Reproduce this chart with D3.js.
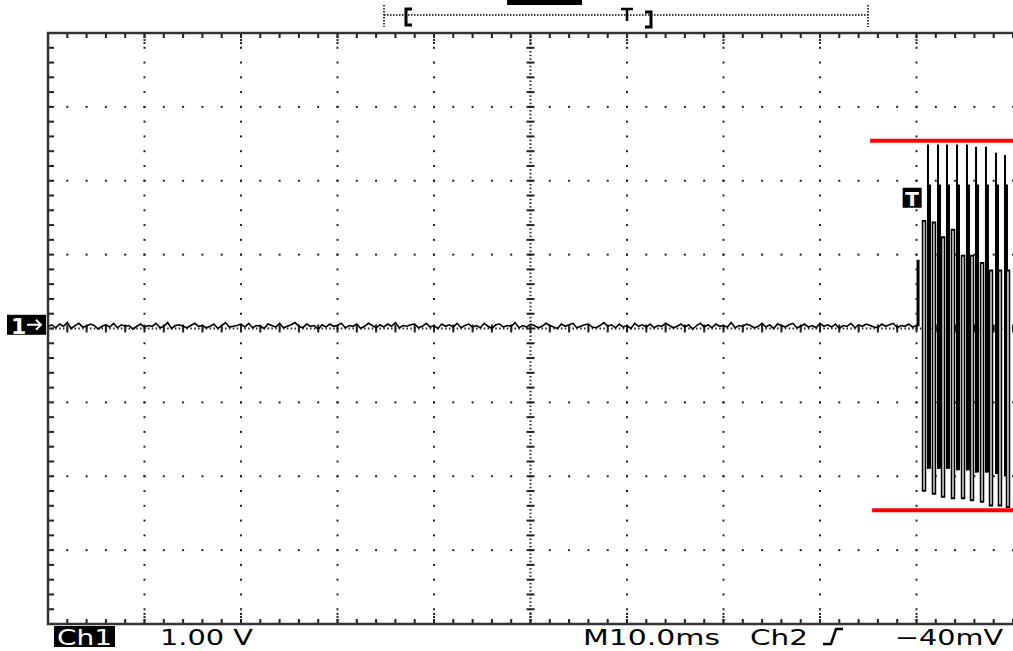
<!DOCTYPE html>
<html><head><meta charset="utf-8">
<script src="https://cdn.jsdelivr.net/npm/d3@7"></script>
<style>html,body{margin:0;padding:0;background:#fff;overflow:hidden}</style>
</head><body>
<svg id="c" width="1013" height="651"></svg>
<script>
// ---- data ----
const timeDomain = [0, 100];           // ms (10 ms/div, 10 div)
const voltDomain = [-4, 4];            // V (1.00 V/div, 8 div)
const sampleStep = 0.4;                // ms between noise samples
const noiseV = [0.03,0.05,0.01,0.06,0.03,0.08,0.00,0.04,0.07,0.02,0.03,0.06,0.04,-0.01,0.03,0.05,0.02,0.07,0.01,0.05,
0.03,0.04,-0.01,0.03,0.06,0.02,0.04,0.03,0.07,0.01,0.03,0.08,0.00,0.04,0.05,0.03,0.01,0.04,0.07,0.03,
0.04,0.01,0.03,0.06,0.00,0.04,0.08,0.02,0.03,0.04,0.06,0.02,0.07,0.01,0.04,0.03,0.00,0.06,0.04,0.02,
0.07,0.01,0.03,0.05,0.08,0.03,0.01,0.06,0.03,0.04,-0.01,0.05,0.02,0.06,0.03,0.04,0.07,0.01,0.04,0.03,
0.06,0.00,0.03,0.07,0.04,0.01,0.05,0.02,0.06,0.03,0.08,0.01,0.04,0.03,0.05,0.06,0.01,0.03,0.07,0.02,
0.04,0.00,0.06,0.03,0.05,0.02,0.07,0.01,0.04,0.06,0.02,0.04,0.01,0.07,0.03,0.00,0.05,0.06,0.02,0.04,
0.03,0.08,0.01,0.04,0.02,0.06,0.04,0.01,0.03,0.07,0.04,0.02,0.00,0.06,0.03,0.05,0.07,0.01,0.03,0.05,
0.06,0.02,0.01,0.04,0.08,0.03,0.05,0.01,0.06,0.02,0.04,0.00,0.07,0.03,0.05,0.02,0.06,0.01,0.04,0.03,
0.07,0.04,0.01,0.03,0.06,0.02,0.05,-0.01,0.04,0.07,0.02,0.05,0.01,0.06,0.03,0.04,0.02,0.08,0.01,0.04,
0.03,0.06,0.04,0.01,0.03,0.07,0.02,0.05,0.00,0.06,0.04,0.02,0.05,0.07,0.01,0.03,0.06,0.02,0.04,0.01,
0.07,0.03,0.05,0.02,0.06,0.00,0.04,0.03,0.07,0.01,0.05,0.03,0.06,0.04,0.02,0.01,0.06,0.03,0.05,0.07,
0.01,0.04,0.03,0.06,0.02,0.04];
// burst: columns of the envelope display (time, top, bottom), alternating lower and upper strokes
const burstT  = [90.16, 90.78, 91.19, 91.81, 92.23, 92.75, 93.16, 93.78, 94.20, 94.82, 95.23, 95.75, 96.17, 96.79, 97.20, 97.72, 98.24, 98.65, 99.17, 99.48];
const burstHi = [0.93, 1.47, 2.49, 1.45, 2.49, 1.25, 2.49, 1.35, 2.49, 1.00, 2.49, 1.00, 2.46, 0.90, 2.46, 0.80, 2.38, 0.80, 2.35, 0.80];
const burstLo = [0.03, -2.21, -1.90, -2.25, -1.90, -2.29, -1.90, -2.31, -1.92, -2.31, -1.92, -2.34, -1.95, -2.36, -1.95, -2.41, -1.97, -2.41, -2.00, -2.43];
const burstKind = ["start","lo","hi","lo","hi","lo","hi","lo","hi","lo","hi","lo","hi","lo","hi","lo","hi","lo","hi","lo"];
const burstBarTop = 1.95;              // level where solid part of upper strokes begins
const cursorV = [2.54, -2.46];         // red cursor levels
const cursorT = [[85.2, 100], [85.4, 100]];
const triggerV = 1.77;
const triggerT = 89.6;
const groundV = 0.05;
const bottomLabels = ["Ch1", "1.00 V", "M10.0ms", "Ch2", "\u221240mV"];

// ---- scales ----
const W = 1013, H = 651;
const x = d3.scaleLinear().domain(timeDomain).range([48, 1013]);
const y = d3.scaleLinear().domain(voltDomain).range([624, 33]);
const svg = d3.select("#c");
svg.append("rect").attr("width", W).attr("height", H).attr("fill", "#fff");

const g = svg.append("g");
const dotC = "#222";
const majT = d3.range(10, 100, 10), majV = d3.range(-3, 4, 1);
const minT = d3.range(0, 100.01, 2), minV = d3.range(-4, 4.01, 0.2);

// dotted major grid
majT.forEach(t => { if (t === 50) return;
  minV.forEach(v => g.append("rect").attr("x", x(t) - 1).attr("y", y(v) - 1).attr("width", 2).attr("height", 2).attr("fill", dotC));
});
majV.forEach(v => { if (v === 0) return;
  minT.forEach(t => g.append("rect").attr("x", x(t) - 1).attr("y", y(v) - 1).attr("width", 2).attr("height", 2).attr("fill", dotC));
});
// center crosshair: dense dots and minor ticks
d3.range(-4, 4.001, 0.05).forEach(v => g.append("rect").attr("x", x(50) - 1).attr("y", y(v) - 0.5).attr("width", 2).attr("height", 1.5).attr("fill", dotC));
d3.range(0, 100.001, 0.4).forEach(t => g.append("rect").attr("x", x(t) - 0.5).attr("y", y(0) - 1).attr("width", 1.5).attr("height", 2).attr("fill", dotC));
minV.forEach(v => g.append("rect").attr("x", x(50) - 4).attr("y", y(v) - 1).attr("width", 8).attr("height", 2).attr("fill", dotC));
minT.forEach(t => g.append("rect").attr("x", x(t) - 1).attr("y", y(0) - 4).attr("width", 2).attr("height", 8).attr("fill", dotC));
// border ticks
minT.forEach(t => {
  g.append("rect").attr("x", x(t) - 1).attr("y", y(4)).attr("width", 2).attr("height", 5).attr("fill", dotC);
  g.append("rect").attr("x", x(t) - 1).attr("y", y(-4) - 5).attr("width", 2).attr("height", 5).attr("fill", dotC);
});
minV.forEach(v => {
  g.append("rect").attr("x", x(0)).attr("y", y(v) - 1).attr("width", 6).attr("height", 2).attr("fill", dotC);
});
majT.forEach(t => {
  [0, 3, 6, 9].forEach(o => {
    g.append("rect").attr("x", x(t) - 1).attr("y", y(4) + o).attr("width", 2).attr("height", 2).attr("fill", dotC);
    g.append("rect").attr("x", x(t) - 1).attr("y", y(-4) - 2 - o).attr("width", 2).attr("height", 2).attr("fill", dotC);
  });
});
// border
svg.append("path").attr("d", `M${x(100)},${y(4)}H${x(0)}V${y(-4)}H${x(100)}`)
  .attr("fill", "none").attr("stroke", "#333").attr("stroke-width", 2.5);

// ---- trace ----
const line = d3.line().x(d => x(d[0])).y(d => y(d[1]));
const noisePts = noiseV.map((v, i) => [i * sampleStep, v]).filter(d => d[0] <= burstT[0]);
noisePts.push([burstT[0], burstLo[0]]);
svg.append("path").attr("d", line(noisePts)).attr("fill", "none").attr("stroke", "#000").attr("stroke-width", 1.6);

const bg = svg.append("g");
burstT.forEach((t, i) => {
  const k = burstKind[i], xx = x(t);
  if (k === "start") {
    bg.append("line").attr("x1", xx).attr("x2", xx).attr("y1", y(burstHi[i])).attr("y2", y(burstLo[i])).attr("stroke", "#000").attr("stroke-width", 3);
  } else if (k === "lo") {
    bg.append("line").attr("x1", xx).attr("x2", xx).attr("y1", y(burstHi[i])).attr("y2", y(burstLo[i])).attr("stroke", "#000").attr("stroke-width", 4.5);
    bg.append("line").attr("x1", xx).attr("x2", xx).attr("y1", y(burstHi[i]) + 2).attr("y2", y(burstLo[i]) - 2).attr("stroke", "#fff").attr("stroke-width", 1.3);
  } else {
    bg.append("line").attr("x1", xx).attr("x2", xx).attr("y1", y(burstHi[i])).attr("y2", y(burstLo[i])).attr("stroke", "#000").attr("stroke-width", 2);
    bg.append("line").attr("x1", xx + 1).attr("x2", xx + 1).attr("y1", y(burstBarTop)).attr("y2", y(burstLo[i])).attr("stroke", "#000").attr("stroke-width", 4);
  }
});

// ---- cursors ----
cursorV.forEach((v, i) => svg.append("line")
  .attr("x1", x(cursorT[i][0])).attr("x2", x(cursorT[i][1])).attr("y1", y(v)).attr("y2", y(v))
  .attr("stroke", "#ff0000").attr("stroke-width", 4));

// trigger marker
const tg = svg.append("g").attr("transform", `translate(${x(triggerT)},${y(triggerV)})`);
tg.append("rect").attr("x", -10).attr("y", -10).attr("width", 19).attr("height", 20).attr("fill", "#000");
tg.append("text").attr("x", -0.5).attr("y", 8).attr("text-anchor", "middle").attr("fill", "#fff")
  .attr("font-family", "DejaVu Sans").attr("font-weight", "bold").attr("font-size", 20).text("T");

// ground marker
const gm = svg.append("g").attr("transform", `translate(0,${y(groundV)})`);
gm.append("rect").attr("x", 7).attr("y", -10).attr("width", 39).attr("height", 20).attr("fill", "#000");
gm.append("text").attr("x", 11).attr("y", 9).attr("fill", "#fff").attr("font-family", "DejaVu Sans").attr("font-weight", "bold").attr("font-size", 22).text("1");
gm.append("path").attr("d", "M27,0H41M36,-5L41,0L36,5").attr("fill", "none").attr("stroke", "#fff").attr("stroke-width", 2);

// ---- top record bar ----
const tb = svg.append("g");
tb.append("line").attr("x1", 384).attr("x2", 868).attr("y1", 15).attr("y2", 15).attr("stroke", "#000").attr("stroke-width", 1.5).attr("stroke-dasharray", "1.5,1.5");
[384, 868].forEach(xx => tb.append("line").attr("x1", xx).attr("x2", xx).attr("y1", 5).attr("y2", 27).attr("stroke", "#000").attr("stroke-width", 1.5).attr("stroke-dasharray", "1.5,1.5"));
tb.append("path").attr("d", "M412,9H406V25H412").attr("fill", "none").attr("stroke", "#000").attr("stroke-width", 3);
tb.append("path").attr("d", "M645,12H651V27H645").attr("fill", "none").attr("stroke", "#000").attr("stroke-width", 3);
tb.append("path").attr("d", "M621,9H633M627,9V21").attr("fill", "none").attr("stroke", "#000").attr("stroke-width", 2.5);
tb.append("rect").attr("x", 507).attr("y", 0).attr("width", 75).attr("height", 5).attr("fill", "#000");

// ---- bottom labels ----
const fb = "DejaVu Sans";
svg.append("rect").attr("x", 54).attr("y", 626).attr("width", 61).attr("height", 21).attr("fill", "#000");
const lab = [[57, 55], [160, 93], [583, 137], [750, 58], [895, 108]];
bottomLabels.forEach((s, i) => {
  svg.append("text").attr("x", lab[i][0]).attr("y", 645).attr("font-family", fb).attr("font-size", 22)
    .attr("fill", i === 0 ? "#fff" : "#000").attr("textLength", lab[i][1]).attr("lengthAdjust", "spacingAndGlyphs").text(s);
});
// rising edge symbol
svg.append("path").attr("d", "M823,644H831L836,629H843").attr("fill", "none").attr("stroke", "#000").attr("stroke-width", 2.5);
</script>
</body></html>
